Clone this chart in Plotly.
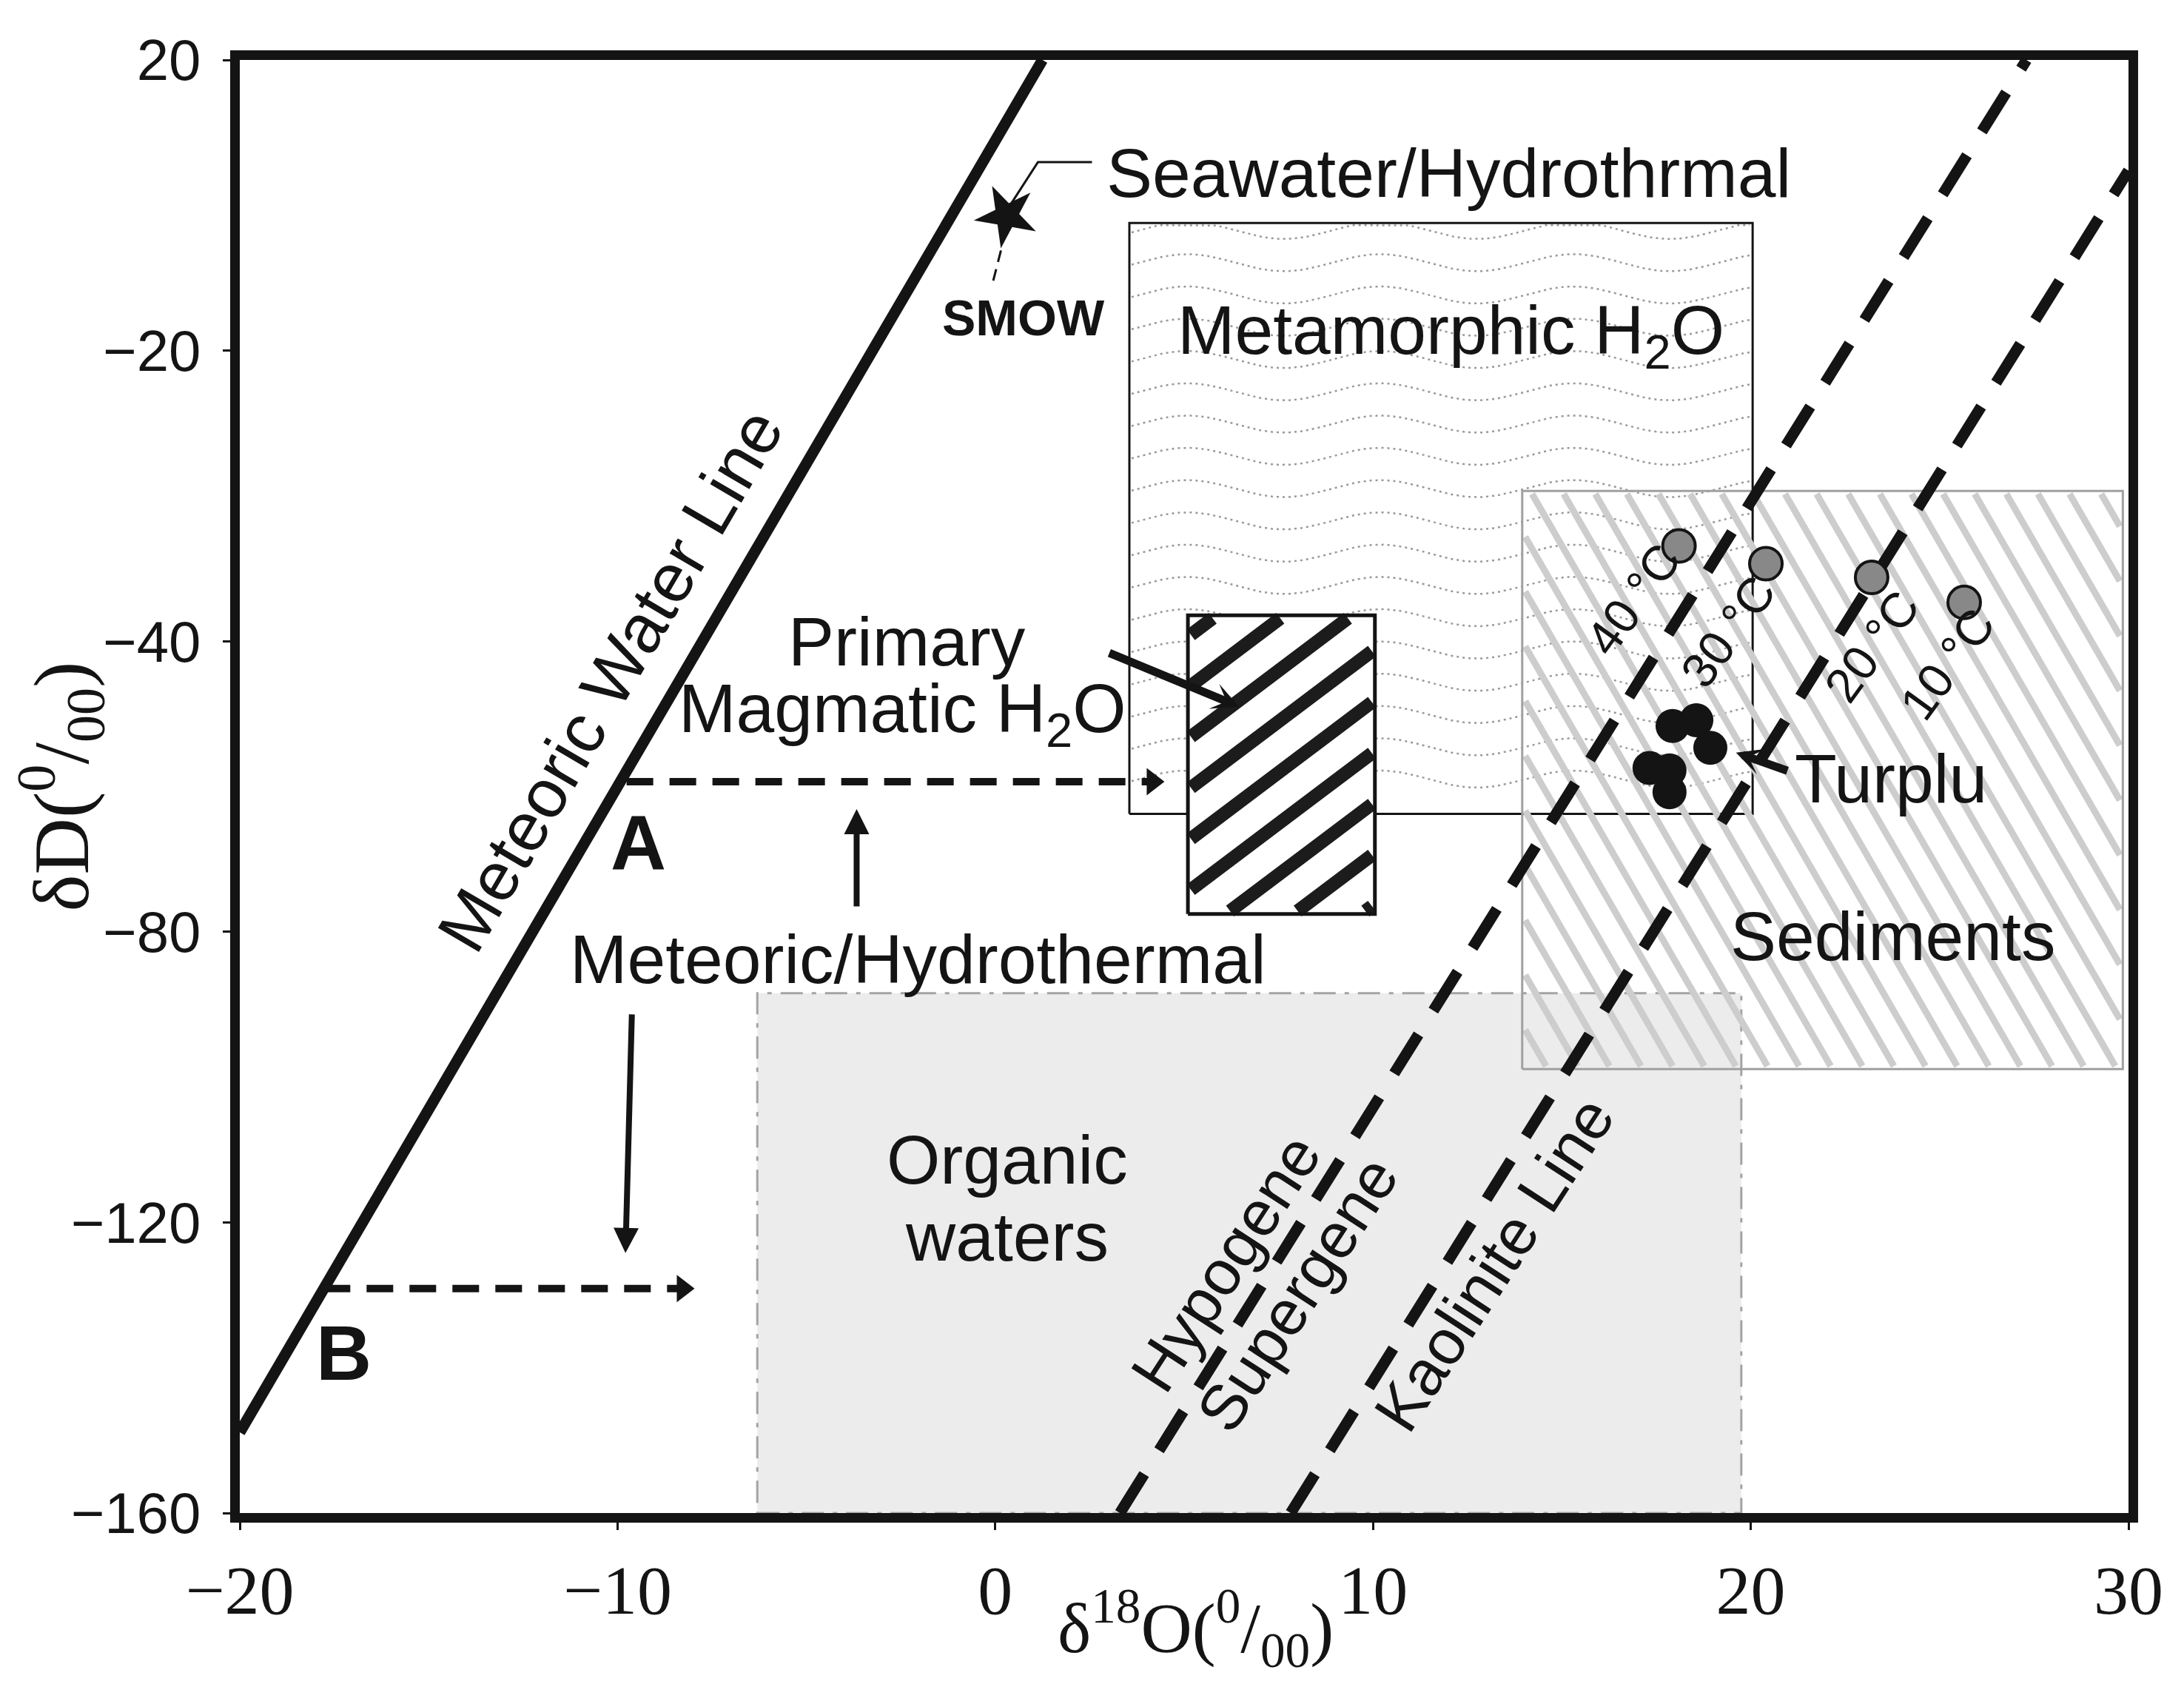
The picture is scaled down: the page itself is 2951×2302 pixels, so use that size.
import math
import plotly.graph_objects as go

W, H = 2951, 2302
ML, MR, MT, MB = 316, 83, 73, 266
X_RANGE = [-20, 30]
Y_RANGE = [-160, 20]
PX_X = (W - ML - MR) / (X_RANGE[1] - X_RANGE[0])   # pixels per permil (x)
PX_Y = (H - MT - MB) / (Y_RANGE[1] - Y_RANGE[0])   # pixels per permil (y)

SANS = "Arial, 'Liberation Sans', sans-serif"
SERIF = "'Times New Roman', 'Liberation Serif', serif"
INK = "#141414"

# tick labels as printed on the original figure (ticks are evenly spaced)
y_tick_vals = [20, -16, -52, -88, -124, -160]
y_tick_text = ["20", "−20", "−40", "−80", "−120", "−160"]
x_tick_vals = [-20, -10, 0, 10, 20, 30]
x_tick_text = ["−20", "−10", "0", "10", "20", "30"]

# fields  [x0, x1, y0, y1]
metamorphic_box = [3.55, 20.05, -73.4, -0.2]
magmatic_box = [5.1, 10.05, -85.8, -48.8]
sediments_box = [13.95, 29.85, -105.0, -33.4]
organic_box = [-6.3, 19.75, -160, -95.6]

# reference lines
mwl_x = [-20, 1.25]
mwl_y = [-150, 20]
hypogene_x = [3.3, 27.3]
hypogene_y = [-160, 20]
kaolinite_x = [7.82, 30]
kaolinite_y = [-160, 6.3]

# meteoric -> hydrothermal shifts
shift_a_x = [-9.76, 4.46]
shift_a_y = [-69.4, -69.4]
shift_b_x = [-17.78, -7.98]
shift_b_y = [-132.2, -132.2]

# kaolinite in equilibrium with meteoric water at temperature
temp_x = [18.1, 20.4, 23.2, 25.65]
temp_y = [-40.2, -42.4, -44.1, -47.2]
temp_labels = ["40 °C", "30 °C", "20 °C", "10 °C"]
temp_label_x = [16.9, 19.4, 23.2, 25.2]
temp_label_y = [-46.8, -50.8, -52.6, -54.8]

# Turplu samples
turplu_x = [17.93, 18.56, 18.93, 17.32, 17.85, 17.85]
turplu_y = [-62.5, -61.8, -65.2, -67.7, -68.0, -70.7]

smow_x = [0.3]
smow_y = [0.7]
seawater_leader_x = [0.42, 1.13, 2.56]
seawater_leader_y = [2.2, 7.35, 7.35]
smow_leader_x = [0.15, -0.09]
smow_leader_y = [-3.6, -8.0]


def rect(box):
    x0, x1, y0, y1 = box
    return [x0, x1, x1, x0, x0], [y0, y0, y1, y1, y0]


def clip(p, d, b):
    t0, t1 = -1e12, 1e12
    for pi, di, lo, hi in ((p[0], d[0], b[0], b[1]), (p[1], d[1], b[2], b[3])):
        if abs(di) < 1e-12:
            if pi < lo or pi > hi:
                return None
        else:
            a, c = (lo - pi) / di, (hi - pi) / di
            t0, t1 = max(t0, min(a, c)), min(t1, max(a, c))
    if t0 >= t1:
        return None
    return (p[0] + t0 * d[0], p[1] + t0 * d[1]), (p[0] + t1 * d[0], p[1] + t1 * d[1])


def hatch(box, angle, spacing, inset=3, phase=0.0):
    # straight hatch lines, worked out in pixel space and clipped to the box
    x0, x1, y0, y1 = box
    b = (x0 * PX_X + inset, x1 * PX_X - inset, y0 * PX_Y + inset, y1 * PX_Y - inset)
    a = math.radians(angle)
    d = (math.cos(a), math.sin(a))
    n = (-math.sin(a), math.cos(a))
    cs = [u * n[0] + v * n[1] for u in b[:2] for v in b[2:]]
    c = math.floor(min(cs) / spacing) * spacing + phase
    xs, ys = [], []
    while c <= max(cs):
        seg = clip((c * n[0], c * n[1]), d, b)
        if seg:
            xs += [seg[0][0] / PX_X, seg[1][0] / PX_X, None]
            ys += [seg[0][1] / PX_Y, seg[1][1] / PX_Y, None]
        c += spacing
    return xs, ys


def waves(box, spacing, amp, wavelength, first=10, crest=78):
    # wavy texture of the metamorphic field
    x0, x1, y0, y1 = box
    u0, u1, v0, v1 = x0 * PX_X, x1 * PX_X, y0 * PX_Y, y1 * PX_Y
    xs, ys = [], []
    row = v1 - first
    while row > v0 + 4:
        u = u0 + 3
        while u <= u1 - 3:
            v = row + amp * math.cos(2 * math.pi * (u - u0 - crest) / wavelength)
            v = min(max(v, v0 + 3), v1 - 3)
            xs.append(u / PX_X)
            ys.append(v / PX_Y)
            u += 5
        xs.append(None)
        ys.append(None)
        row -= spacing
    return xs, ys


def line(x, y, color=INK, width=3, dash="solid", **kw):
    return go.Scatter(x=x, y=y, mode="lines", line=dict(color=color, width=width, dash=dash),
                      hoverinfo="skip", showlegend=False, **kw)


fig = go.Figure()

# organic waters
ox, oy = rect(organic_box)
fig.add_trace(line(ox, oy, color="#a3a3a3", width=3, dash="30px,12px,6px,12px",
                   fill="toself", fillcolor="#ececec"))

# metamorphic water
wx, wy = waves(metamorphic_box, 43.6, 11.5, 261)
fig.add_trace(line(wx, wy, color="#9a9a9a", width=2.5, dash="3px,5px"))
mx, my = rect(metamorphic_box)
fig.add_trace(line(mx, my, color=INK, width=3))

# sediments
hx, hy = hatch(sediments_box, -60, 37, inset=4)
fig.add_trace(line(hx, hy, color="#cdcdcd", width=9))
sx, sy = rect(sediments_box)
fig.add_trace(line(sx, sy, color="#a0a0a0", width=3))

# primary magmatic water
px_, py_ = rect(magmatic_box)
fig.add_trace(line(px_, py_, color="rgba(0,0,0,0)", width=0, fill="toself", fillcolor="white"))
bx, by = hatch(magmatic_box, 37, 55, inset=4)
fig.add_trace(line(bx, by, color="#1c1c1c", width=18))
fig.add_trace(line(px_, py_, color=INK, width=5))

# meteoric water line, hypogene/supergene and kaolinite lines
fig.add_trace(line(mwl_x, mwl_y, color=INK, width=15))
fig.add_trace(line(hypogene_x, hypogene_y, color=INK, width=15, dash="62px,38px"))
fig.add_trace(line(kaolinite_x, kaolinite_y, color=INK, width=15, dash="62px,38px"))

# dashed isotopic shift arrows
for sx_, sy_ in ((shift_a_x, shift_a_y), (shift_b_x, shift_b_y)):
    fig.add_trace(line([sx_[0], sx_[1] - 20 / PX_X], sy_, color=INK, width=10, dash="36px,22px"))
    fig.add_trace(go.Scatter(x=[sx_[1] - 15 / PX_X], y=[sy_[1]], mode="markers",
                             marker=dict(symbol="triangle-right", size=32, color=INK),
                             hoverinfo="skip", showlegend=False))

# SMOW leaders and star
fig.add_trace(line(seawater_leader_x, seawater_leader_y, color=INK, width=3))
fig.add_trace(line(smow_leader_x, smow_leader_y, color=INK, width=3, dash="16px,10px"))
fig.add_trace(go.Scatter(x=smow_x, y=smow_y, mode="markers",
                         marker=dict(symbol="star", size=64, angle=-26, color=INK,
                                     line=dict(width=0)),
                         hoverinfo="skip", showlegend=False))

# points
fig.add_trace(go.Scatter(x=temp_x, y=temp_y, mode="markers",
                         marker=dict(size=44, color="#888888", line=dict(color=INK, width=4)),
                         hoverinfo="skip", showlegend=False))
fig.add_trace(go.Scatter(x=turplu_x, y=turplu_y, mode="markers",
                         marker=dict(size=46, color=INK, line=dict(width=0)),
                         hoverinfo="skip", showlegend=False))

ann = []


def text(t, x, y, size=93, angle=0, bold=False):
    if bold:
        t = "<b>" + t + "</b>"
    ann.append(dict(text=t, x=x, y=y, xref="x", yref="y", showarrow=False,
                    textangle=angle, xanchor="center", yanchor="middle",
                    font=dict(family=SANS, size=size, color=INK)))


def arrow(tail, tip, width=8, head=2, size=0.85):
    ann.append(dict(text="", x=tip[0], y=tip[1], ax=tail[0], ay=tail[1],
                    xref="x", yref="y", axref="x", ayref="y", showarrow=True,
                    arrowhead=head, arrowsize=size, arrowwidth=width, arrowcolor=INK,
                    standoff=0))


text("Seawater/Hydrothrmal", 12.0, 6.0)
text("SMOW", 0.74, -11.9, size=68, bold=True)
text("Metamorphic H<sub>2</sub>O", 12.07, -14.1)
text("Primary", -2.34, -52.1)
text("Magmatic H<sub>2</sub>O", -2.45, -61.0)
text("Meteoric Water Line", -10.2, -56.8, angle=-59.7)
text("A", -9.45, -76.9, size=104, bold=True)
text("B", -17.24, -140.2, size=104, bold=True)
text("Meteoric/Hydrothermal", -2.05, -91.4)
text("Organic", 0.31, -116.3)
text("waters", 0.31, -125.8)
text("Sediments", 23.76, -88.6)
text("Turplu", 23.72, -69.0)
text("Hypogene", 6.1, -129.0, size=86, angle=-57)
text("Supergene", 8.0, -132.9, size=86, angle=-57)
text("Kaolinite Line", 13.2, -129.2, size=86, angle=-57)
for lab, lx, ly in zip(temp_labels, temp_label_x, temp_label_y):
    text(lab, lx, ly, size=66, angle=-54)

# x-axis title, set just under the tick labels as in the original
ann.append(dict(text="δ<sup>18</sup>O(<sup>0</sup>/<sub>00</sub>)", x=5.3, y=-0.079,
                xref="x", yref="paper", showarrow=False, xanchor="center", yanchor="middle",
                font=dict(family=SERIF, size=96, color=INK)))

arrow((-3.67, -85.0), (-3.67, -72.8))
arrow((-9.62, -98.1), (-9.79, -127.8))
arrow((2.99, -53.4), (6.45, -60.1), width=11, head=3, size=0.55)
arrow((21.0, -68.1), (19.61, -65.8), width=11, head=3, size=0.55)

axis_common = dict(showline=True, linewidth=13, linecolor=INK, mirror=True,
                   ticks="outside", ticklen=10, tickwidth=3, tickcolor=INK,
                   showgrid=False, zeroline=False, automargin=False)

fig.update_layout(
    width=W, height=H,
    margin=dict(l=ML, r=MR, t=MT, b=MB, autoexpand=False),
    paper_bgcolor="white", plot_bgcolor="white",
    showlegend=False,
    annotations=ann,
    xaxis=dict(range=X_RANGE, tickvals=x_tick_vals, ticktext=x_tick_text,
               tickfont=dict(family=SERIF, size=94, color=INK), ticklabelstandoff=0,
               **axis_common),
    yaxis=dict(range=Y_RANGE, tickvals=y_tick_vals, ticktext=y_tick_text,
               tickfont=dict(family=SANS, size=78, color=INK), ticklabelstandoff=14,
               title=dict(text="δD(<sup>0</sup>/<sub>00</sub>)",
                          font=dict(family=SERIF, size=106, color=INK), standoff=16),
               **axis_common),
)

fig.write_html("out.html")
